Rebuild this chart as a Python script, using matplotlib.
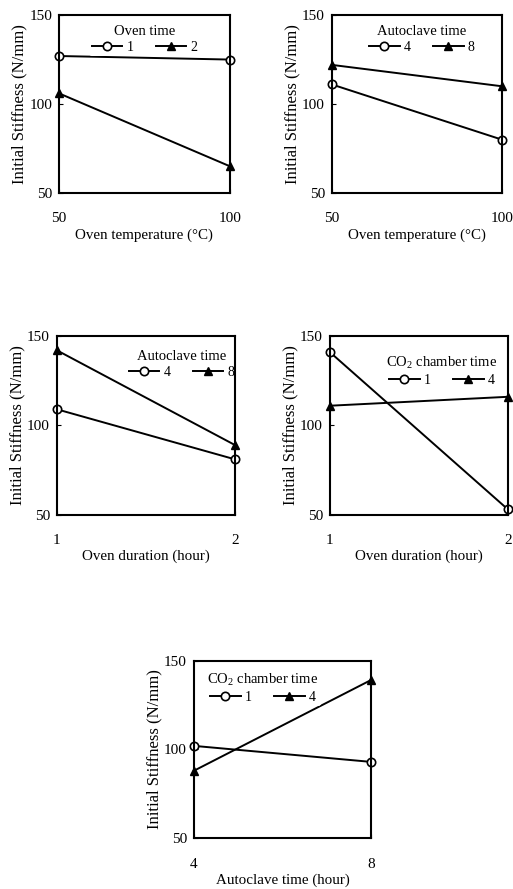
import matplotlib
matplotlib.use("Agg")
import matplotlib.pyplot as plt

plt.rcParams["font.family"] = ["Liberation Serif", "DejaVu Serif"]
plt.rcParams["mathtext.fontset"] = "custom"
plt.rcParams["mathtext.rm"] = "Liberation Serif"
plt.rcParams["mathtext.it"] = "Liberation Serif:italic"

# panel 1: oven temperature vs oven time
oven_temp = [50, 100]
p1_time1 = [127, 125]
p1_time2 = [106, 65]

# panel 2: oven temperature vs autoclave time
p2_auto4 = [111, 80]
p2_auto8 = [122, 110]

# panel 3: oven duration vs autoclave time
oven_dur = [1, 2]
p3_auto4 = [109, 81]
p3_auto8 = [142, 89]

# panel 4: oven duration vs CO2 chamber time
p4_co2_1 = [141, 53]
p4_co2_4 = [111, 116]

# panel 5: autoclave time vs CO2 chamber time
auto_time = [4, 8]
p5_co2_1 = [102, 93]
p5_co2_4 = [88, 139]

YLABEL = "Initial Stiffness (N/mm)"

panels = [
    # rect, x, series a (circle), series b (triangle), labels, title, xlabel, legend anchor
    ([0.115, 0.783, 0.333, 0.200], oven_temp, p1_time1, p1_time2, ("1", "2"),
     "Oven time", "Oven temperature (°C)", (0.50, 0.955)),
    ([0.647, 0.783, 0.331, 0.200], oven_temp, p2_auto4, p2_auto8, ("4", "8"),
     "Autoclave time", "Oven temperature (°C)", (0.53, 0.955)),
    ([0.111, 0.421, 0.347, 0.201], oven_dur, p3_auto4, p3_auto8, ("4", "8"),
     "Autoclave time", "Oven duration (hour)", (0.70, 0.935)),
    ([0.643, 0.421, 0.347, 0.201], oven_dur, p4_co2_1, p4_co2_4, ("1", "4"),
     r"CO$_2$ chamber time", "Oven duration (hour)", (0.63, 0.905)),
    ([0.378, 0.057, 0.345, 0.200], auto_time, p5_co2_1, p5_co2_4, ("1", "4"),
     r"CO$_2$ chamber time", "Autoclave time (hour)", (0.39, 0.945)),
]

fig = plt.figure(figsize=(5.13, 8.89), dpi=100)

for rect, x, ya, yb, labels, title, xlabel, anchor in panels:
    ax = fig.add_axes(rect)
    ax.plot(x, ya, "-o", color="black", lw=1.4, ms=6, mfc="white",
            mec="black", mew=1.2, clip_on=False, label=labels[0])
    ax.plot(x, yb, "-^", color="black", lw=1.4, ms=6, mfc="black",
            mec="black", clip_on=False, label=labels[1])
    ax.set_xlim(x[0], x[1])
    ax.set_ylim(50, 150)
    ax.set_xticks(x)
    ax.set_yticks([50, 100, 150])
    ax.tick_params(axis="x", direction="in", length=3, pad=14, labelsize=11)
    ax.tick_params(axis="y", direction="in", length=3, pad=5, labelsize=11)
    for s in ax.spines.values():
        s.set_linewidth(1.5)
    ax.set_ylabel(YLABEL, fontsize=12, labelpad=1)
    ax.set_xlabel(xlabel, fontsize=10.8, labelpad=2)
    leg = ax.legend(title=title, loc="upper center", bbox_to_anchor=anchor,
                    ncol=2, frameon=True, fontsize=10, title_fontsize=10.5,
                    handlelength=2.2, columnspacing=1.6, handletextpad=0.3,
                    borderpad=0.15, labelspacing=0.2, borderaxespad=0)
    leg.get_frame().set_edgecolor("none")
    leg.get_frame().set_facecolor("white")
    leg.get_frame().set_alpha(1)
    leg.set_zorder(2.2)

fig.savefig("out.png", dpi=100)
